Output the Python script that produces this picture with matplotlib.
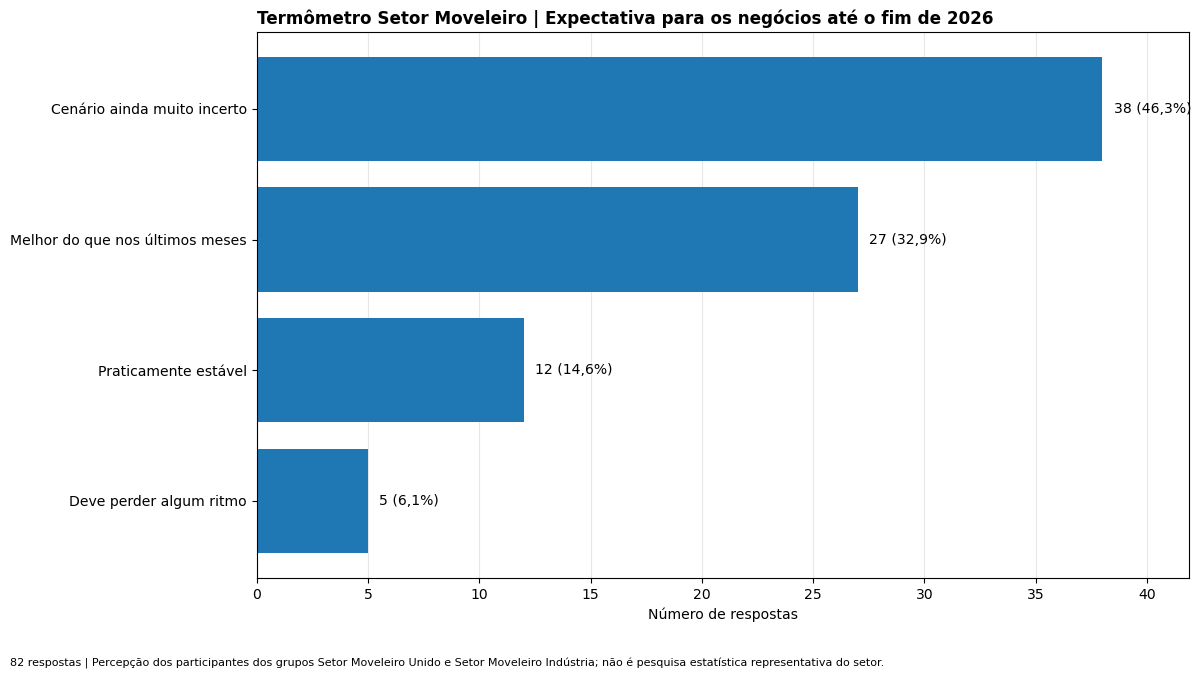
import matplotlib
matplotlib.use("Agg")
import matplotlib.pyplot as plt

# dados
categorias = ["Cenário ainda muito incerto", "Melhor do que nos últimos meses",
              "Praticamente estável", "Deve perder algum ritmo"]
respostas = [38, 27, 12, 5]
percentuais = ["46,3%", "32,9%", "14,6%", "6,1%"]
total = 82

fs = 10.08

fig = plt.figure(figsize=(12, 6.79), dpi=100)
ax = fig.add_axes([0.214, 0.149, 0.777, 0.804])

y = list(range(len(categorias)))
ax.barh(y, respostas, height=0.8, color="#1f77b4", zorder=2)
ax.set_yticks(y)
ax.set_yticklabels(categorias, fontsize=fs)
ax.invert_yaxis()

for i, (v, p) in enumerate(zip(respostas, percentuais)):
    ax.text(v + 0.5, i, f"{v} ({p})", va="center", ha="left", fontsize=fs)

ax.set_xlim(0, 41.9)
ax.set_xticks(range(0, 45, 5))
ax.tick_params(axis="x", labelsize=fs)
ax.grid(axis="x", alpha=0.3, zorder=0)
ax.set_xlabel("Número de respostas", fontsize=fs)
ax.set_title("Termômetro Setor Moveleiro | Expectativa para os negócios até o fim de 2026",
             loc="left", fontsize=12.07, fontweight="bold")

fig.text(0.008, 0.023,
         f"{total} respostas | Percepção dos participantes dos grupos Setor Moveleiro Unido e "
         "Setor Moveleiro Indústria; não é pesquisa estatística representativa do setor.",
         fontsize=8.06, ha="left", va="center")

fig.savefig("out.png", dpi=100)
